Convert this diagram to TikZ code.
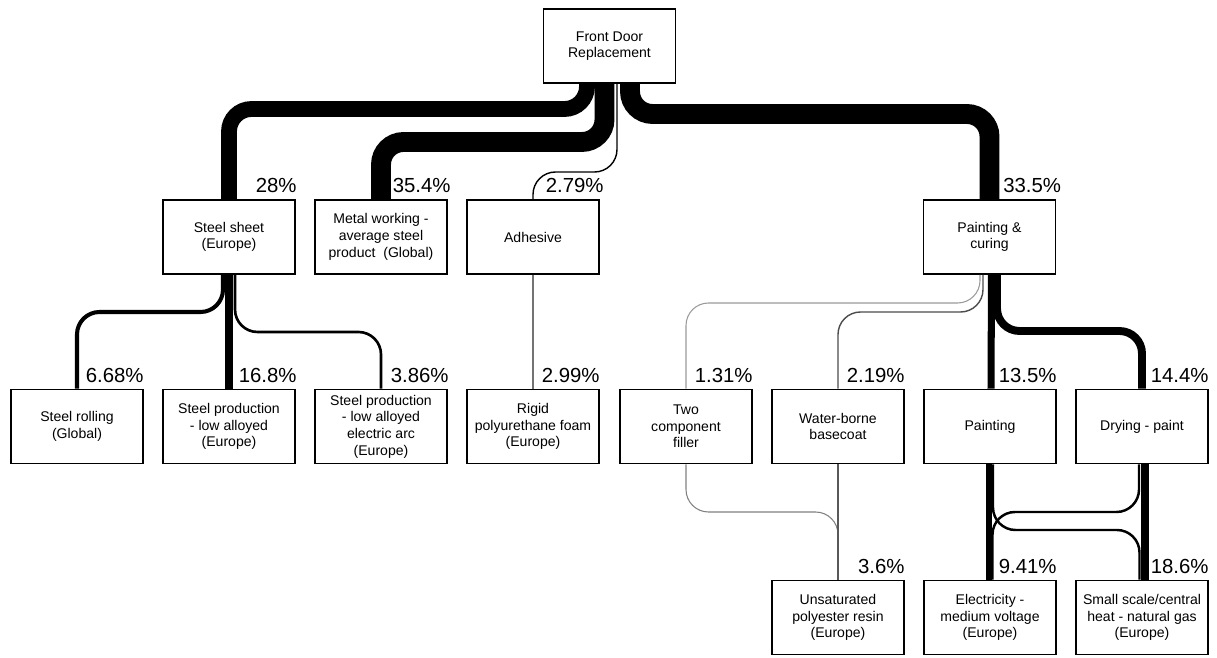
\documentclass[tikz,border=0pt]{standalone}
\usepackage{fontspec}
\setmainfont{Liberation Sans}

\begin{document}
\begin{tikzpicture}[x=0.02cm, y=-0.02cm,
  box/.style={draw, fill=white, line width=1.1pt, minimum width=2.64cm, minimum height=1.48cm,
    align=center, inner sep=1pt, font=\fontsize{8}{9.5}\selectfont},
  pct/.style={anchor=base east, inner sep=0pt, font=\fontsize{11.6}{13}\selectfont},
  flow/.style={rounded corners=0.45cm}]
\useasboundingbox (0,0) rectangle (1217,658);

% boxes
\node[box] (door) at (609.5,46) {Front Door\\Replacement};
\node[box] (sheet) at (229,237) {Steel sheet\\(Europe)};
\node[box] (metal) at (381,237) {Metal working -\\average steel\\product\ \ (Global)};
\node[box] (adhes) at (533,237) {Adhesive};
\node[box] (cure) at (989.5,237) {Painting \&\\curing};
\node[box] (rolling) at (77,426.5) {Steel rolling\\(Global)};
\node[box] (prodla) at (229,426.5) {Steel production\\- low alloyed\\(Europe)};
\node[box] (prodarc) at (381,426.5) {Steel production\\- low alloyed\\electric arc\\(Europe)};
\node[box] (foam) at (533,426.5) {Rigid\\polyurethane foam\\(Europe)};
\node[box] (filler) at (686,426.5) {Two\\component\\filler};
\node[box] (basecoat) at (838,426.5) {Water-borne\\basecoat};
\node[box] (painting) at (990,426.5) {Painting};
\node[box] (drying) at (1142,426.5) {Drying - paint};
\node[box] (resin) at (838,617.5) {Unsaturated\\polyester resin\\(Europe)};
\node[box] (elec) at (990,617.5) {Electricity -\\medium voltage\\(Europe)};
\node[box] (heat) at (1142,617.5) {Small scale/central\\heat - natural gas\\(Europe)};

% exit points
\coordinate (d1) at ([xshift=-0.45cm]door.south);
\coordinate (d2) at ([xshift=-0.1cm]door.south);
\coordinate (d3) at ([xshift=0.15cm]door.south);
\coordinate (d4) at ([xshift=0.41cm]door.south);
\coordinate (s1) at ([xshift=-0.12cm]sheet.south);
\coordinate (s3) at ([xshift=0.12cm]sheet.south);
\coordinate (c1) at ([xshift=-0.19cm]cure.south);
\coordinate (c2) at ([xshift=-0.13cm]cure.south);
\coordinate (c3) at ([xshift=0.04cm]cure.south);
\coordinate (c4) at ([xshift=0.15cm]cure.south);
\coordinate (c3e) at ([xshift=0.02cm]painting.north);
\coordinate (p1) at ([xshift=-0.02cm]painting.south);
\coordinate (p2) at ([xshift=0.06cm]painting.south);
\coordinate (r1) at ([xshift=0.06cm]drying.south);
\coordinate (r2) at ([xshift=-0.06cm]drying.south);
\coordinate (e1) at ([xshift=-0.02cm]elec.north);
\coordinate (e2) at ([xshift=0.05cm]elec.north);
\coordinate (h1) at ([xshift=0.06cm]heat.north);
\coordinate (h2) at ([xshift=-0.05cm]heat.north);

% flows
\draw[flow, line width=9pt] (d1) |- (sheet.north |- 0,109) -- (sheet.north);
\draw[flow, line width=11.3pt] (d2) |- (metal.north |- 0,142) -- (metal.north);
\draw[flow, line width=0.8pt] (d3) |- (adhes.north |- 0,172) -- (adhes.north);
\draw[flow, line width=11.3pt] (d4) |- (cure.north |- 0,114) -- (cure.north);

\draw[flow, line width=2.3pt] (s1) |- (rolling.north |- 0,312) -- (rolling.north);
\draw[line width=5.1pt] (sheet.south) -- (prodla.north);
\draw[flow, line width=1.5pt] (s3) |- (prodarc.north |- 0,332) -- (prodarc.north);
\draw[line width=0.6pt, black!55] (adhes.south) -- (foam.north);

\draw[flow, line width=0.6pt, black!40] (c1) |- (filler.north |- 0,303) -- (filler.north);
\draw[flow, line width=0.8pt, black!70] (c2) |- (basecoat.north |- 0,312) -- (basecoat.north);
\draw[line width=4pt] (c3) -- (c3e);
\draw[flow, line width=4.5pt] (c4) |- (drying.north |- 0,331) -- (drying.north);

\draw[flow, line width=0.6pt, black!50] (filler.south) |- (resin.north |- 0,512) -- (resin.north);
\draw[line width=0.8pt, black!65] (basecoat.south) -- (resin.north);
\draw[line width=3.6pt] (p1) -- (e1);
\draw[line width=4.6pt] (r1) -- (h1);
\draw[flow, line width=1.4pt] (p2) |- (h2 |- 0,530) -- (h2);
\draw[flow, line width=1.4pt] (r2) |- (e2 |- 0,512) -- (e2);

% shares
\node[pct] (l28) at ([xshift=0.02cm, yshift=0.13cm]sheet.north east) {28\%};
\node[pct] (l354) at ([xshift=0.06cm, yshift=0.13cm]metal.north east) {35.4\%};
\node[pct] (l279) at ([xshift=0.08cm, yshift=0.13cm]adhes.north east) {2.79\%};
\node[pct] (l335) at ([xshift=0.1cm, yshift=0.13cm]cure.north east) {33.5\%};
\node[pct] (l668) at ([yshift=0.12cm]rolling.north east) {6.68\%};
\node[pct] (l168) at ([xshift=0.02cm, yshift=0.12cm]prodla.north east) {16.8\%};
\node[pct] (l386) at ([xshift=0.02cm, yshift=0.12cm]prodarc.north east) {3.86\%};
\node[pct] (l299) at ([yshift=0.12cm]foam.north east) {2.99\%};
\node[pct] (l131) at ([yshift=0.12cm]filler.north east) {1.31\%};
\node[pct] (l219) at ([yshift=0.12cm]basecoat.north east) {2.19\%};
\node[pct] (l135) at ([yshift=0.12cm]painting.north east) {13.5\%};
\node[pct] (l144) at ([yshift=0.12cm]drying.north east) {14.4\%};
\node[pct] (l36) at ([yshift=0.12cm]resin.north east) {3.6\%};
\node[pct] (l941) at ([yshift=0.12cm]elec.north east) {9.41\%};
\node[pct] (l186) at ([yshift=0.12cm]heat.north east) {18.6\%};
\end{tikzpicture}
\end{document}
